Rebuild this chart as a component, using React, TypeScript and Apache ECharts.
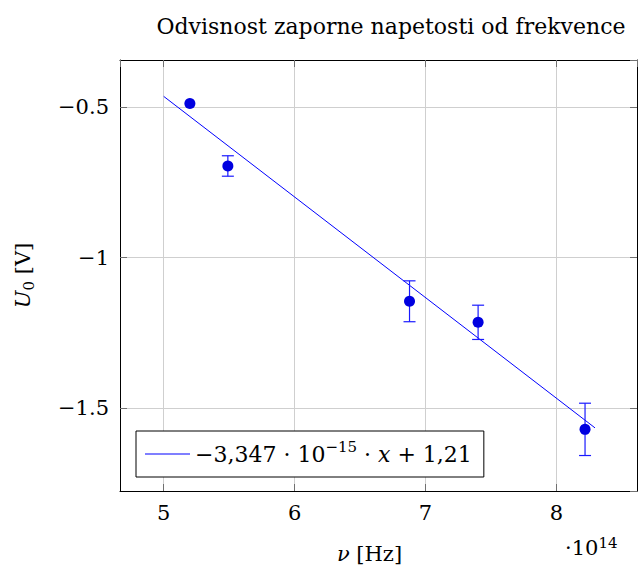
import React, { useEffect, useRef } from "react";
import * as echarts from "echarts";

// Measurements: frequency (×10^14 Hz) and stopping voltage (V) with errors
const freq = [5.2, 5.49, 6.878, 7.402, 8.219];
const voltage = [-0.487, -0.695, -1.145, -1.215, -1.571];
const voltErr = [0, 0.034, 0.068, 0.057, 0.087];

// Fit line endpoints (−3,347·10^−15·x + 1,21)
const fitX = [5.0, 8.295];
const fitY = [-0.4635, -1.566];

const xTicks = [5, 6, 7, 8];
const yTicks = [-1.5, -1, -0.5];

const FONT = "DejaVu Serif";
const LEGEND_NAME = "fit";

export default function App() {
  const ref = useRef<HTMLDivElement>(null);
  useEffect(() => {
    document.body.style.margin = "0";
    const chart = echarts.init(ref.current!, null, { renderer: "svg" });
    const xMin = 4.666, xMax = 8.616, yMin = -1.776, yMax = -0.3425;
    const minus = (v: number) => String(v).replace("-", "\u2212");
    const axisCommon = {
      type: "value" as const,
      axisLine: { show: true, lineStyle: { color: "#000", width: 1 } },
      axisTick: { show: true, inside: true, length: 7, lineStyle: { color: "#707070" } },
      splitLine: { show: false },
    };
    chart.setOption({
      animation: false,
      backgroundColor: "#fff",
      textStyle: { fontFamily: FONT },
      title: {
        text: "Odvisnost zaporne napetosti od frekvence",
        left: 386,
        top: 10,
        textAlign: "center",
        textStyle: { fontFamily: FONT, fontWeight: "normal", fontSize: 22, color: "#000" },
      },
      grid: { left: 120, top: 60, right: 1, bottom: 76, outerBoundsMode: "none", containLabel: false },
      xAxis: [
        {
          ...axisCommon,
          min: xMin,
          max: xMax,
          splitNumber: 4,
          position: "bottom",
          splitLine: { show: true, lineStyle: { color: "#cfcfcf", width: 1 } },
          axisLabel: {
            showMinLabel: false,
            showMaxLabel: false,
            color: "#000",
            fontSize: 21,
            fontFamily: FONT,
            margin: 11,
            formatter: (v: number) => (xTicks.includes(Math.round(v * 1000) / 1000) ? minus(v) : ""),
          },
          name: "{i|ν} [Hz]",
          nameLocation: "middle",
          nameGap: 52,
          nameTextStyle: {
            color: "#000",
            fontSize: 21,
            fontFamily: FONT,
            padding: [0, 18, 0, 0],
            rich: { i: { fontStyle: "italic", fontSize: 21, fontFamily: FONT, color: "#000" } },
          },
        },
        {
          ...axisCommon,
          min: xMin,
          max: xMax,
          splitNumber: 4,
          position: "top",
          axisLabel: { show: false },
        },
      ],
      yAxis: [
        {
          ...axisCommon,
          min: yMin,
          max: yMax,
          splitNumber: 3,
          position: "left",
          splitLine: { show: true, lineStyle: { color: "#cfcfcf", width: 1 } },
          axisLabel: {
            showMinLabel: false,
            showMaxLabel: false,
            color: "#000",
            fontSize: 21,
            fontFamily: FONT,
            margin: 11,
            formatter: (v: number) => (yTicks.includes(Math.round(v * 1000) / 1000) ? minus(v) : ""),
          },
          name: "{i|U}{sub|0} [V]",
          nameLocation: "middle",
          nameGap: 84,
          nameRotate: 90,
          nameTextStyle: {
            color: "#000",
            fontSize: 21,
            fontFamily: FONT,
            lineHeight: 26,
            rich: {
              i: { fontStyle: "italic", fontSize: 21, fontFamily: FONT, color: "#000", lineHeight: 26 },
              sub: { fontSize: 15, fontFamily: FONT, color: "#000", verticalAlign: "bottom", lineHeight: 15 },
            },
          },
        },
        {
          ...axisCommon,
          min: yMin,
          max: yMax,
          splitNumber: 3,
          position: "right",
          axisLabel: { show: false },
        },
      ],
      legend: {
        data: [{ name: LEGEND_NAME, icon: "rect" }],
        left: 136,
        top: 431,
        orient: "horizontal",
        borderColor: "#000",
        borderWidth: 1,
        borderRadius: 0,
        padding: [8, 12, 8, 9],
        itemWidth: 45,
        itemHeight: 1,
        backgroundColor: "#fff",
        itemStyle: { color: "#0000ff", borderWidth: 0 },
        formatter: () => "{a|\u22123,347 · 10}{sup|\u221215}{a| · }{i|x}{a| + 1,21}",
        textStyle: {
          color: "#000",
          fontFamily: FONT,
          fontSize: 22,
          lineHeight: 30,
          rich: {
            a: { fontSize: 22, fontFamily: FONT, color: "#000", lineHeight: 30 },
            i: { fontSize: 22, fontFamily: FONT, fontStyle: "italic", color: "#000", lineHeight: 30 },
            sup: { fontSize: 15, fontFamily: FONT, color: "#000", verticalAlign: "top", lineHeight: 15 },
          },
        },
      },
      graphic: [
        {
          type: "text",
          left: 565,
          top: 535,
          style: {
            text: "{a|·10}{sup|14}",
            rich: {
              a: { fontSize: 21, fontFamily: FONT, fill: "#000", lineHeight: 26 },
              sup: { fontSize: 15, fontFamily: FONT, fill: "#000", verticalAlign: "top", lineHeight: 15 },
            },
          },
        },
      ],
      series: [
        {
          name: LEGEND_NAME,
          type: "line",
          data: fitX.map((x, i) => [x, fitY[i]]),
          symbol: "none",
          lineStyle: { color: "#0000ff", width: 1 },
          itemStyle: { color: "#0000ff" },
          z: 3,
        },
        {
          name: "err",
          type: "custom",
          data: freq.map((x, i) => [x, voltage[i] - voltErr[i], voltage[i] + voltErr[i]]),
          renderItem: (params: any, api: any) => {
            const x = api.value(0);
            const lo = api.coord([x, api.value(1)]);
            const hi = api.coord([x, api.value(2)]);
            if (Math.abs(lo[1] - hi[1]) < 0.5) return { type: "group", children: [] };
            const w = 6;
            const style = { stroke: "#1a1aff", lineWidth: 1.2 };
            return {
              type: "group",
              children: [
                { type: "line", shape: { x1: lo[0], y1: lo[1], x2: hi[0], y2: hi[1] }, style },
                { type: "line", shape: { x1: lo[0] - w, y1: lo[1], x2: lo[0] + w, y2: lo[1] }, style },
                { type: "line", shape: { x1: hi[0] - w, y1: hi[1], x2: hi[0] + w, y2: hi[1] }, style },
              ],
            };
          },
          z: 4,
        },
        {
          name: "points",
          type: "scatter",
          data: freq.map((x, i) => [x, voltage[i]]),
          symbol: "circle",
          symbolSize: 11,
          itemStyle: { color: "#0000e0", opacity: 1 },
          z: 5,
        },
      ],
    });
    return () => chart.dispose();
  }, []);
  return (
    <div
      ref={ref}
      style={{ width: 638, height: 567, position: "absolute", left: 0, top: 0 }}
    />
  );
}
